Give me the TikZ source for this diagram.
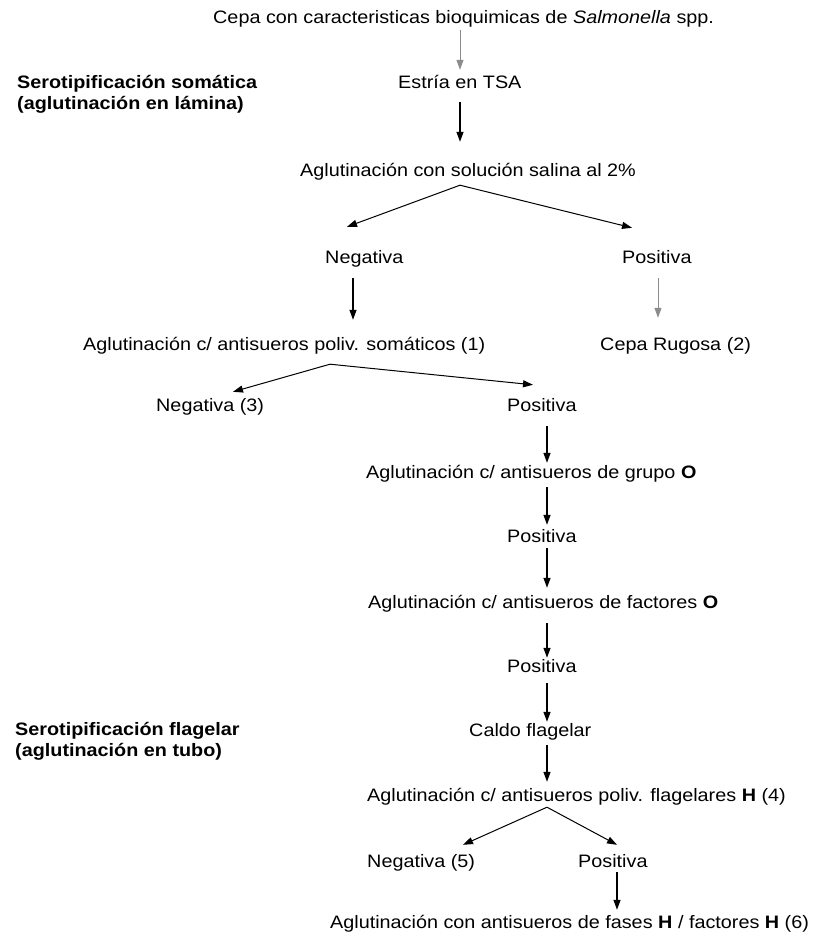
\documentclass[tikz,border=0pt]{standalone}
\usepackage{fontspec}
\setmainfont{Liberation Sans}[FakeStretch=1.1]
\usetikzlibrary{arrows.meta,calc}
\tikzset{
  txt/.style={anchor=base west, inner sep=0pt, text height=13pt, text depth=4pt, font=\fontsize{18}{21}\selectfont},
  lbl/.style={anchor=base west, inner sep=0pt, font=\fontsize{18}{21}\selectfont\bfseries},
  arr/.style={-{Triangle[length=10pt,width=7pt]}, line width=1.3pt},
  arrd/.style={-{Triangle[length=10pt,width=7pt]}, line width=1pt},
  arrg/.style={-{Triangle[length=10pt,width=7pt]}, line width=1pt, black!45}
}
\begin{document}
\begin{tikzpicture}[x=1pt,y=-1pt]
    \useasboundingbox (0,0) rectangle (814,936);
    % columns of the vertical arrows
    \coordinate (c1) at (460,0);
    \coordinate (cn) at (353,0);
    \coordinate (cp) at (658,0);
    \coordinate (cm) at (547,0);
    \coordinate (cf) at (617,0);

    % side labels
    \node[lbl] (som1) at (17,89) {Serotipificación somática};
    \node[lbl] (som2) at (17,110) {(aglutinación en lámina)};
    \node[lbl] (fla1) at (15,735) {Serotipificación flagelar};
    \node[lbl] (fla2) at (15,756) {(aglutinación en tubo)};

    % steps
    \node[txt] (cepa) at (213,24) {Cepa con caracteristicas bioquimicas de \textit{Salmonella} spp.};
    \node[txt] (tsa) at (398,89) {Estría en TSA};
    \node[txt] (sal) at (300,177) {Aglutinación con solución salina al 2\%};
    \node[txt] (neg1) at (325,263) {Negativa};
    \node[txt] (pos1) at (622,263) {Positiva};
    \node[txt] (poli) at (83,350) {Aglutinación c/ antisueros poliv. somáticos (1)};
    \node[txt] (rug) at (600,350) {Cepa Rugosa (2)};
    \node[txt] (neg3) at (156,411) {Negativa (3)};
    \node[txt] (pos2) at (507,411) {Positiva};
    \node[txt] (grupo) at (366,478) {Aglutinación c/ antisueros de grupo \textbf{O}};
    \node[txt] (pos3) at (507,542) {Positiva};
    \node[txt] (fact) at (368,608) {Aglutinación c/ antisueros de factores \textbf{O}};
    \node[txt] (pos4) at (507,672) {Positiva};
    \node[txt] (caldo) at (469,736) {Caldo flagelar};
    \node[txt] (flag) at (367,801) {Aglutinación c/ antisueros poliv. flagelares \textbf{H} (4)};
    \node[txt] (neg5) at (367,867) {Negativa (5)};
    \node[txt] (pos5) at (578,867) {Positiva};
    \node[txt] (fases) at (330,928) {Aglutinación con antisueros de fases \textbf{H} / factores \textbf{H} (6)};

    % arrows
    \draw[arrg, shorten <=2pt, shorten >=6pt] (cepa.south -| c1) -- (tsa.north -| c1);
    \draw[arr, shorten <=9pt, shorten >=22pt] (tsa.south -| c1) -- (sal.north -| c1);
    \draw[arrd] ($(sal.south west)+(160,4)$) -- ($(neg1.north west)+(22,-23)$);
    \draw[arrd] ($(sal.south west)+(160,4)$) -- ($(pos1.north west)+(10,-22)$);
    \draw[arr, shorten <=11pt, shorten >=17pt] (neg1.south -| cn) -- (poli.north -| cn);
    \draw[arrg, shorten <=11pt, shorten >=19pt] (pos1.south -| cp) -- (rug.north -| cp);
    \draw[arrd] ($(poli.south west)+(247,10)$) -- ($(neg3.north west)+(77,-6)$);
    \draw[arrd] ($(poli.south west)+(247,10)$) -- ($(pos2.north west)+(26,-13)$);
    \draw[arr, shorten <=11pt, shorten >=2pt] (pos2.south -| cm) -- (grupo.north -| cm);
    \draw[arr, shorten <=5pt, shorten >=4pt] (grupo.south -| cm) -- (pos3.north -| cm);
    \draw[arr, shorten <=2pt, shorten >=7pt] (pos3.south -| cm) -- (fact.north -| cm);
    \draw[arr, shorten <=11pt, shorten >=1pt] (fact.south -| cm) -- (pos4.north -| cm);
    \draw[arr, shorten <=7pt, shorten >=1pt] (pos4.south -| cm) -- (caldo.north -| cm);
    \draw[arr, shorten <=5pt, shorten >=6pt] (caldo.south -| cm) -- (flag.north -| cm);
    \draw[arrd] ($(flag.south west)+(180,2)$) -- ($(neg5.north west)+(96,-9)$);
    \draw[arrd] ($(flag.south west)+(180,2)$) -- ($(pos5.north west)+(39,-9)$);
    \draw[arr, shorten <=1pt, shorten >=5pt] (pos5.south -| cf) -- (fases.north -| cf);
\end{tikzpicture}
\end{document}
